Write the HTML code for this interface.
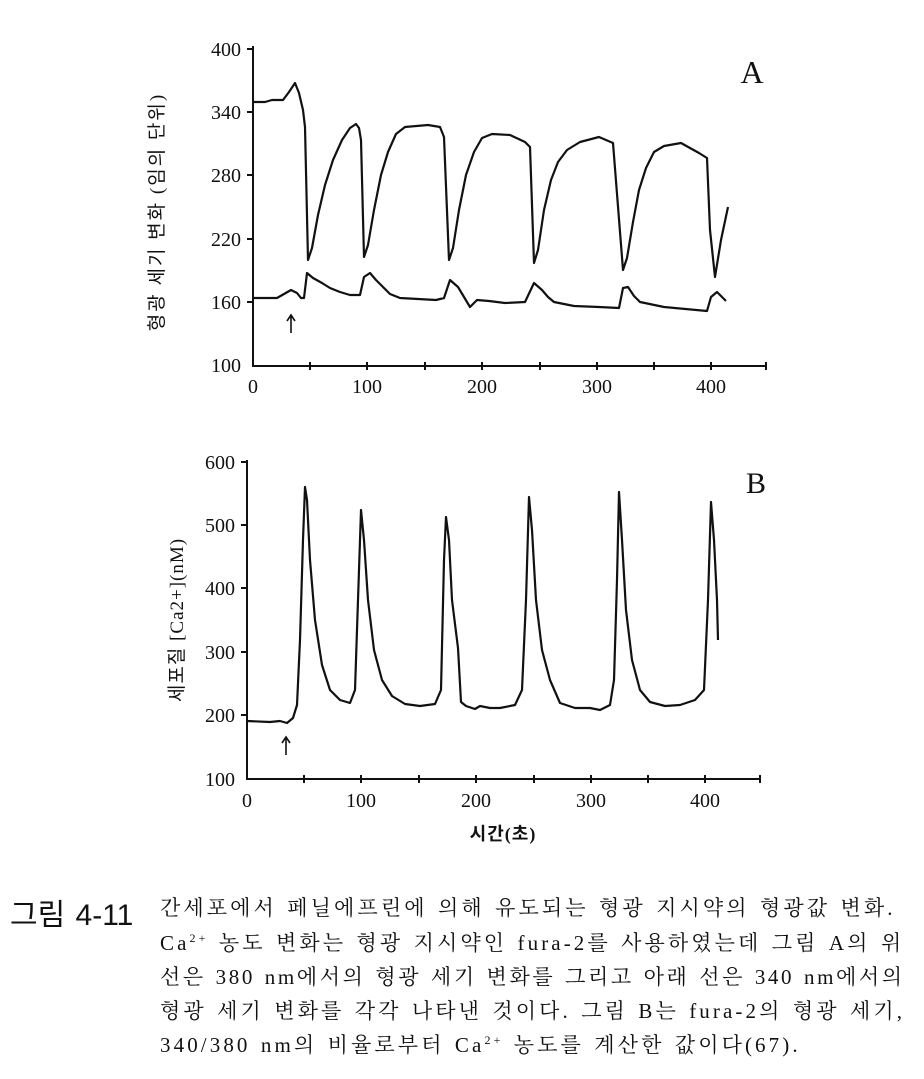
<!DOCTYPE html>
<html><head><meta charset="utf-8"><style>
body{margin:0;background:#fff;width:924px;height:1079px;overflow:hidden;position:relative}
svg{position:absolute;left:0;top:0}
.cap{position:absolute;font-family:"Liberation Serif","Noto Serif CJK SC","Noto Sans CJK KR",serif;font-size:21px;letter-spacing:3.1px;word-spacing:2px;color:#111;white-space:nowrap}
</style></head><body>
<svg width="924" height="880" viewBox="0 0 924 880" font-family="Liberation Serif, serif" fill="#111">
<g stroke="#111" stroke-width="2" fill="none">
<line x1="253" y1="46" x2="253" y2="366"/>
<line x1="252" y1="366" x2="767" y2="366"/>
<path d="M247 49h6M247 112h6M247 175h6M247 239h6M247 302h6"/>
<path d="M310 362v8M367 362v8M425 362v8M482 362v8M540 362v8M597 362v8M654 362v8M711 362v8M766 362v8"/>
<polyline stroke-width="2.2" stroke-linejoin="round" points="252,102 265,102 272,100 283,100 289,92 295,83 299,93 303,110 305,127 308,260 312,248 318,215 325,185 333,160 342,140 350,128 356,124 359,128 361,140 364,257 368,245 374,210 381,175 388,152 396,134 405,127 428,125 440,127 444,137 449,260 453,248 459,210 466,175 474,152 482,138 492,134 510,135 525,142 530,147 534,263 538,250 544,210 551,180 558,162 567,150 580,142 599,137 613,143 623,270 627,258 633,222 639,190 646,168 654,152 664,146 681,143 699,153 707,158 710,230 715,277 721,240 728,207"/>
<polyline stroke-width="2.2" stroke-linejoin="round" points="252,298 277,298 291,290 297,293 301,298 304,298 307,273 313,278 322,283 330,288 340,292 350,295 360,295 364,277 370,273 376,280 383,287 390,294 400,298 436,300 444,298 450,280 458,287 464,297 470,307 477,300 489,301 505,303 525,302 534,283 542,290 548,297 554,302 574,306 599,307 619,308 623,288 628,287 634,296 640,302 664,307 707,311 711,297 717,292 726,301"/>
<path d="M291 333V316M287 321l4-6 4 6" stroke-width="1.6"/>
<line x1="247" y1="460" x2="247" y2="780"/>
<line x1="246" y1="779" x2="761" y2="779"/>
<path d="M241 462h6M241 525h6M241 588h6M241 652h6M241 715h6"/>
<path d="M304 775v8M361 775v8M419 775v8M476 775v8M534 775v8M591 775v8M648 775v8M705 775v8M760 775v8"/>
<polyline stroke-width="2.2" stroke-linejoin="round" points="247,721 270,722 280,721 287,723 293,718 297,705 300,640 303,540 305,487 307,500 310,560 315,620 322,665 330,690 340,700 350,703 355,690 358,600 361,510 364,540 368,600 374,650 382,680 392,696 405,704 420,706 435,704 441,690 444,560 446,517 449,540 452,600 458,648 461,702 466,706 475,709 480,706 490,708 500,708 515,705 522,690 526,600 529,497 532,530 536,600 542,650 550,680 560,703 575,708 590,708 600,710 610,705 614,680 617,580 619,492 622,540 626,610 632,660 640,690 650,702 665,706 680,705 695,700 704,690 708,600 711,502 714,540 717,600 718,640"/>
<path d="M286 755V738M282 743l4-6 4 6" stroke-width="1.6"/>
</g>
<g font-size="20" text-anchor="end">
<text x="241" y="56">400</text><text x="241" y="119">340</text><text x="241" y="182">280</text><text x="241" y="246">220</text><text x="241" y="309">160</text><text x="241" y="372">100</text>
<text x="235" y="469">600</text><text x="235" y="532">500</text><text x="235" y="595">400</text><text x="235" y="659">300</text><text x="235" y="722">200</text><text x="235" y="786">100</text>
</g>
<g font-size="20" text-anchor="middle">
<text x="253" y="393">0</text><text x="367" y="393">100</text><text x="482" y="393">200</text><text x="597" y="393">300</text><text x="711" y="393">400</text>
<text x="247" y="807">0</text><text x="361" y="807">100</text><text x="476" y="807">200</text><text x="591" y="807">300</text><text x="705" y="807">400</text>
</g>
<text x="752" y="83" font-size="32" text-anchor="middle">A</text>
<text x="756" y="493" font-size="30" text-anchor="middle">B</text>
<text transform="translate(163,212) rotate(-90)" font-size="19" letter-spacing="2" text-anchor="middle" font-family="Liberation Serif, Noto Sans CJK KR, serif">형광 세기 변화 (임의 단위)</text>
<text transform="translate(183,620) rotate(-90)" font-size="19" letter-spacing="1" text-anchor="middle" font-family="Liberation Serif, Noto Sans CJK KR, serif">세포질 [Ca2+](nM)</text>
<text x="503" y="840" font-size="18" letter-spacing="1" text-anchor="middle" font-weight="bold" font-family="Liberation Serif, Noto Sans CJK KR, serif">시간(초)</text>
</svg>
<div class="cap" style="left:10px;top:890px;font-family:'Liberation Sans','Noto Sans CJK KR',sans-serif;font-size:30px;letter-spacing:0">그림 4-11</div>
<div class="cap" style="left:160px;top:892px">간세포에서 페닐에프린에 의해 유도되는 형광 지시약의 형광값 변화.</div>
<div class="cap" style="left:160px;top:927px">Ca<sup style="font-size:12px">2+</sup> 농도 변화는 형광 지시약인 fura-2를 사용하였는데 그림 A의 위</div>
<div class="cap" style="left:160px;top:961px;letter-spacing:2.6px">선은 380 nm에서의 형광 세기 변화를 그리고 아래 선은 340 nm에서의</div>
<div class="cap" style="left:160px;top:995px">형광 세기 변화를 각각 나타낸 것이다. 그림 B는 fura-2의 형광 세기,</div>
<div class="cap" style="left:160px;top:1029px">340/380 nm의 비율로부터 Ca<sup style="font-size:12px">2+</sup> 농도를 계산한 값이다(67).</div>
</body></html>
